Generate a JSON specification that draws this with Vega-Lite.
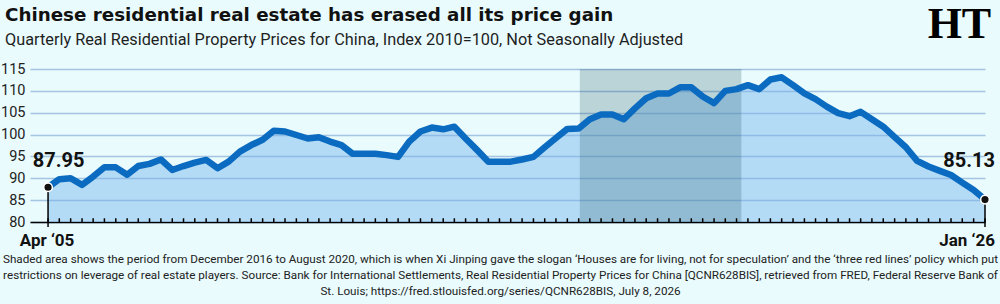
{
  "$schema": "https://vega.github.io/schema/vega-lite/v6.json",
  "width": 955,
  "height": 153,
  "autosize": {"type": "none"},
  "padding": {"left": 30, "top": 69, "right": 15, "bottom": 82},
  "background": "#e9fbfd",
  "title": {
    "text": "Chinese residential real estate has erased all its price gain",
    "subtitle": "Quarterly Real Residential Property Prices for China, Index 2010=100, Not Seasonally Adjusted",
    "anchor": "start",
    "frame": "group",
    "dx": -25,
    "offset": -46.5,
    "font": "DejaVu Sans",
    "fontSize": 18.3,
    "fontWeight": "bold",
    "color": "#111111",
    "subtitleFont": "Roboto",
    "subtitleFontSize": 16.3,
    "subtitleColor": "#1f1f1f",
    "subtitlePadding": 7
  },
  "config": {
    "view": {"stroke": null},
    "text": {"font": "Roboto"},
    "axisY": {"tickCount": 8, "labelOverlap": false}
  },
  "datasets": {
    "prices": [
      {"date": "2005-04-01", "value": 87.95},
      {"date": "2005-07-01", "value": 89.8},
      {"date": "2005-10-01", "value": 90.0},
      {"date": "2006-01-01", "value": 88.5},
      {"date": "2006-04-01", "value": 90.4},
      {"date": "2006-07-01", "value": 92.5},
      {"date": "2006-10-01", "value": 92.5},
      {"date": "2007-01-01", "value": 90.8},
      {"date": "2007-04-01", "value": 92.8},
      {"date": "2007-07-01", "value": 93.3},
      {"date": "2007-10-01", "value": 94.3},
      {"date": "2008-01-01", "value": 91.9},
      {"date": "2008-04-01", "value": 92.8},
      {"date": "2008-07-01", "value": 93.6},
      {"date": "2008-10-01", "value": 94.2},
      {"date": "2009-01-01", "value": 92.3},
      {"date": "2009-04-01", "value": 93.8},
      {"date": "2009-07-01", "value": 96.1},
      {"date": "2009-10-01", "value": 97.6},
      {"date": "2010-01-01", "value": 98.8},
      {"date": "2010-04-01", "value": 100.9},
      {"date": "2010-07-01", "value": 100.7},
      {"date": "2010-10-01", "value": 99.9},
      {"date": "2011-01-01", "value": 99.1},
      {"date": "2011-04-01", "value": 99.4},
      {"date": "2011-07-01", "value": 98.4},
      {"date": "2011-10-01", "value": 97.6},
      {"date": "2012-01-01", "value": 95.6},
      {"date": "2012-04-01", "value": 95.6},
      {"date": "2012-07-01", "value": 95.6},
      {"date": "2012-10-01", "value": 95.3},
      {"date": "2013-01-01", "value": 94.9},
      {"date": "2013-04-01", "value": 98.4},
      {"date": "2013-07-01", "value": 100.7},
      {"date": "2013-10-01", "value": 101.6},
      {"date": "2014-01-01", "value": 101.2},
      {"date": "2014-04-01", "value": 101.8},
      {"date": "2014-07-01", "value": 99.1},
      {"date": "2014-10-01", "value": 96.5},
      {"date": "2015-01-01", "value": 93.8},
      {"date": "2015-04-01", "value": 93.8},
      {"date": "2015-07-01", "value": 93.8},
      {"date": "2015-10-01", "value": 94.3},
      {"date": "2016-01-01", "value": 94.9},
      {"date": "2016-04-01", "value": 97.1},
      {"date": "2016-07-01", "value": 99.2},
      {"date": "2016-10-01", "value": 101.3},
      {"date": "2017-01-01", "value": 101.4},
      {"date": "2017-04-01", "value": 103.5},
      {"date": "2017-07-01", "value": 104.6},
      {"date": "2017-10-01", "value": 104.6},
      {"date": "2018-01-01", "value": 103.5},
      {"date": "2018-04-01", "value": 106.0},
      {"date": "2018-07-01", "value": 108.3},
      {"date": "2018-10-01", "value": 109.4},
      {"date": "2019-01-01", "value": 109.4},
      {"date": "2019-04-01", "value": 110.8},
      {"date": "2019-07-01", "value": 110.8},
      {"date": "2019-10-01", "value": 108.7},
      {"date": "2020-01-01", "value": 107.2},
      {"date": "2020-04-01", "value": 110.0},
      {"date": "2020-07-01", "value": 110.4},
      {"date": "2020-10-01", "value": 111.3},
      {"date": "2021-01-01", "value": 110.4},
      {"date": "2021-04-01", "value": 112.6},
      {"date": "2021-07-01", "value": 113.1},
      {"date": "2021-10-01", "value": 111.3},
      {"date": "2022-01-01", "value": 109.4},
      {"date": "2022-04-01", "value": 108.1},
      {"date": "2022-07-01", "value": 106.4},
      {"date": "2022-10-01", "value": 104.9},
      {"date": "2023-01-01", "value": 104.2},
      {"date": "2023-04-01", "value": 105.2},
      {"date": "2023-07-01", "value": 103.5},
      {"date": "2023-10-01", "value": 101.8},
      {"date": "2024-01-01", "value": 99.4},
      {"date": "2024-04-01", "value": 97.1},
      {"date": "2024-07-01", "value": 94.0},
      {"date": "2024-10-01", "value": 92.7},
      {"date": "2025-01-01", "value": 91.7},
      {"date": "2025-04-01", "value": 90.75},
      {"date": "2025-07-01", "value": 89.0},
      {"date": "2025-10-01", "value": 87.3},
      {"date": "2026-01-01", "value": 85.13}
    ],
    "shade": [
      {"start": "2017-01-10", "end": "2020-08-09", "label": "Houses are for living, not for speculation"}
    ],
    "ends": [
      {"date": "2005-04-01", "value": 87.95, "tag": "87.95", "period": "Apr ‘05", "side": "first"},
      {"date": "2026-01-01", "value": 85.13, "tag": "85.13", "period": "Jan ‘26", "side": "last"}
    ],
    "brand": [
      {"name": "HT"}
    ]
  },
  "layer": [
    {
      "data": {"name": "prices"},
      "mark": {"type": "area", "color": "#74b3ea", "opacity": 0.45},
      "encoding": {
        "x": {
          "field": "date",
          "type": "temporal",
          "scale": {"type": "utc", "domain": ["2004-11-06", "2026-01-01"]},
          "axis": {
            "orient": "bottom",
            "domain": true,
            "domainColor": "#000000",
            "domainWidth": 1.5,
            "ticks": false,
            "labels": false,
            "grid": false,
            "title": [
              "Shaded area shows the period from December 2016 to August 2020, which is when Xi Jinping gave the slogan ‘Houses are for living, not for speculation’ and the ‘three red lines’ policy which put",
              "restrictions on leverage of real estate players. Source: Bank for International Settlements, Real Residential Property Prices for China [QCNR628BIS], retrieved from FRED, Federal Reserve Bank of",
              "St. Louis; https://fred.stlouisfed.org/series/QCNR628BIS, July 8, 2026"
            ],
            "titleFont": "Roboto",
            "titleFontSize": 11.7,
            "titleFontWeight": "normal",
            "titleColor": "#222222",
            "titleLineHeight": 16,
            "titleBaseline": "top",
            "titleAlign": "center",
            "titleAnchor": "middle",
            "titleX": 470,
            "titlePadding": 31
          }
        },
        "y": {
          "field": "value",
          "type": "quantitative",
          "scale": {"domain": [80, 115], "zero": false, "nice": false},
          "axis": {
            "values": [80, 85, 90, 95, 100, 105, 110, 115],
            "tickCount": 8,
            "labelOverlap": false,
            "grid": true,
            "gridColor": "#a5c4e4",
            "gridWidth": 1.5,
            "domain": false,
            "ticks": false,
            "labelFont": "Roboto",
            "labelFontSize": 14.5,
            "labelColor": "#222222",
            "labelPadding": 5,
            "title": null
          }
        },
        "y2": {"datum": 80}
      }
    },
    {
      "data": {"name": "shade"},
      "mark": {"type": "rect", "color": "#1e505f", "opacity": 0.23},
      "encoding": {
        "x": {"field": "start", "type": "temporal"},
        "x2": {"field": "end"},
        "y": {"datum": 115, "type": "quantitative"},
        "y2": {"datum": 80}
      }
    },
    {
      "data": {"name": "prices"},
      "mark": {"type": "line", "color": "#0b6bc0", "strokeWidth": 6.5, "strokeJoin": "round", "strokeCap": "round"},
      "encoding": {
        "x": {"field": "date", "type": "temporal"},
        "y": {"field": "value", "type": "quantitative"}
      }
    },
    {
      "data": {"name": "prices"},
      "mark": {"type": "rule", "color": "#000000", "strokeWidth": 1.5},
      "encoding": {
        "x": {"field": "date", "type": "temporal"},
        "y": {"datum": 80, "type": "quantitative"},
        "y2": {"datum": 80.85}
      }
    },
    {
      "data": {"name": "ends"},
      "mark": {"type": "rule", "color": "#000000", "strokeWidth": 1.5},
      "encoding": {
        "x": {"field": "date", "type": "temporal"},
        "y": {"field": "value", "type": "quantitative"},
        "y2": {"datum": 78.86}
      }
    },
    {
      "data": {"name": "ends"},
      "mark": {"type": "point", "filled": true, "color": "#111111", "size": 75, "opacity": 1, "stroke": "#ffffff", "strokeWidth": 1.5},
      "encoding": {
        "x": {"field": "date", "type": "temporal"},
        "y": {"field": "value", "type": "quantitative"}
      }
    },
    {
      "data": {"name": "ends"},
      "transform": [{"filter": "datum.side == 'first'"}],
      "layer": [
        {
          "mark": {"type": "text", "align": "center", "baseline": "alphabetic", "dx": 10.5, "dy": -20.3, "fontSize": 20, "fontWeight": "bold", "color": "#111111"},
          "encoding": {
            "x": {"field": "date", "type": "temporal"},
            "y": {"field": "value", "type": "quantitative"},
            "text": {"field": "tag"}
          }
        },
        {
          "mark": {"type": "text", "align": "center", "baseline": "alphabetic", "dx": -1, "dy": 24, "fontSize": 17, "fontWeight": "bold", "color": "#111111"},
          "encoding": {
            "x": {"field": "date", "type": "temporal"},
            "y": {"datum": 80, "type": "quantitative"},
            "text": {"field": "period"}
          }
        }
      ]
    },
    {
      "data": {"name": "ends"},
      "transform": [{"filter": "datum.side == 'last'"}],
      "layer": [
        {
          "mark": {"type": "text", "align": "right", "baseline": "alphabetic", "dx": 10, "dy": -32.6, "fontSize": 20, "fontWeight": "bold", "color": "#111111"},
          "encoding": {
            "x": {"field": "date", "type": "temporal"},
            "y": {"field": "value", "type": "quantitative"},
            "text": {"field": "tag"}
          }
        },
        {
          "mark": {"type": "text", "align": "right", "baseline": "alphabetic", "dx": 10, "dy": 24, "fontSize": 17, "fontWeight": "bold", "color": "#111111"},
          "encoding": {
            "x": {"field": "date", "type": "temporal"},
            "y": {"datum": 80, "type": "quantitative"},
            "text": {"field": "period"}
          }
        }
      ]
    },
    {
      "data": {"name": "brand"},
      "mark": {"type": "text", "font": "Liberation Serif", "fontSize": 44, "fontWeight": "bold", "align": "center", "baseline": "alphabetic", "color": "#000000"},
      "encoding": {
        "x": {"datum": {"year": 2025, "month": "jun", "date": 8, "utc": true}, "type": "temporal"},
        "y": {"datum": 122.1, "type": "quantitative"},
        "text": {"field": "name"}
      }
    }
  ]
}
